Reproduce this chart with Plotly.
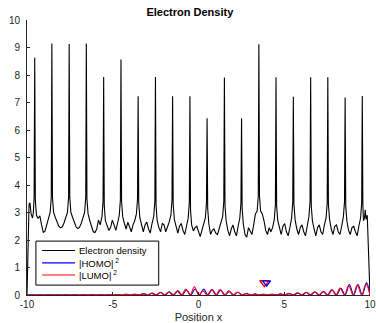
import plotly.graph_objects as go

# ---- data ----
peak_x = [-9.55, -8.55, -7.54, -6.54, -5.53, -4.52, -3.52, -2.51, -1.51, -0.50,
          0.50, 1.51, 2.51, 3.52, 4.52, 5.53, 6.54, 7.54, 8.55, 9.55]
peak_y = [8.63, 9.15, 9.13, 9.15, 7.93, 8.56, 7.23, 7.93, 7.23, 7.23,
          6.43, 7.91, 6.43, 9.12, 7.92, 7.21, 7.92, 7.92, 7.18, 7.24]

# baseline between consecutive peaks, sampled at 10%..90% of each gap
gap_vals = [
    [2.90, 2.78, 2.88, 2.55, 2.28, 2.32, 2.58, 2.82, 3.00],
    [3.00, 2.82, 2.65, 2.50, 2.44, 2.48, 2.62, 2.82, 3.00],
    [3.00, 2.82, 2.62, 2.48, 2.42, 2.46, 2.60, 2.82, 3.00],
    [2.95, 2.70, 2.45, 2.30, 2.27, 2.40, 2.72, 2.55, 2.85],
    [2.70, 2.55, 2.35, 2.45, 2.72, 2.55, 2.35, 2.60, 2.90],
    [2.85, 2.60, 2.40, 2.65, 2.50, 2.30, 2.55, 2.70, 2.95],
    [2.80, 2.50, 2.30, 2.55, 2.65, 2.40, 2.25, 2.60, 2.85],
    [2.70, 2.45, 2.30, 2.60, 2.55, 2.30, 2.45, 2.65, 2.90],
    [2.75, 2.45, 2.25, 2.50, 2.60, 2.35, 2.20, 2.50, 2.80],
    [2.55, 2.33, 2.45, 2.50, 2.30, 2.12, 2.35, 2.55, 2.80],
    [2.60, 2.20, 2.35, 2.40, 2.25, 2.20, 2.45, 2.65, 2.85],
    [2.70, 2.35, 2.15, 2.40, 2.55, 2.30, 2.15, 2.50, 2.80],
    [2.60, 2.20, 2.10, 2.45, 2.30, 2.20, 2.55, 2.95, 3.05],
    [3.05, 2.95, 2.70, 2.35, 2.20, 2.45, 2.30, 2.45, 2.75],
    [2.70, 2.45, 2.20, 2.50, 2.60, 2.30, 2.15, 2.45, 2.80],
    [2.75, 2.40, 2.20, 2.45, 2.55, 2.30, 2.15, 2.50, 2.85],
    [2.70, 2.40, 2.15, 2.45, 2.55, 2.30, 2.20, 2.55, 2.80],
    [2.75, 2.40, 2.20, 2.50, 2.55, 2.30, 2.20, 2.50, 2.85],
    [2.70, 2.35, 2.20, 2.45, 2.50, 2.30, 2.15, 2.50, 2.80],
]
left_x = [-10.0, -9.88, -9.83, -9.76, -9.68, -9.63]
left_y = [0.0, 3.30, 3.35, 2.95, 2.80, 3.00]
right_x = [9.62, 9.68, 9.72, 9.77, 9.84, 10.0]
right_y = [2.70, 2.80, 3.10, 2.75, 2.90, 0.0]

orb_x = [-9.7 + 0.5 * k for k in range(40)]
homo_h = [0.01, 0.01, 0.01, 0.01, 0.01, 0.015, 0.015, 0.02, 0.02, 0.02,
          0.02, 0.025, 0.03, 0.05, 0.07, 0.10, 0.12, 0.15, 0.18, 0.22,
          0.22, 0.20, 0.18, 0.13, 0.10, 0.06, 0.04, 0.03, 0.03, 0.04,
          0.05, 0.07, 0.09, 0.11, 0.13, 0.18, 0.24, 0.38, 0.38, 0.45]
lumo_h = [0.01, 0.01, 0.01, 0.01, 0.01, 0.015, 0.015, 0.02, 0.02, 0.02,
          0.02, 0.025, 0.03, 0.04, 0.06, 0.09, 0.11, 0.14, 0.22, 0.30,
          0.15, 0.20, 0.20, 0.15, 0.11, 0.05, 0.03, 0.03, 0.03, 0.04,
          0.06, 0.08, 0.10, 0.12, 0.12, 0.20, 0.25, 0.35, 0.36, 0.40]

mark_x = [3.84, 3.97]
mark_y = [0.45, 0.45]

series_names = ["Electron density", "|HOMO|<sup> 2</sup>", "|LUMO|<sup> 2</sup>"]
series_colors = ["black", "blue", "red"]

# ---- build curves ----
dx, dy = list(left_x), list(left_y)
for i, (p, h) in enumerate(zip(peak_x, peak_y)):
    base_l = gap_vals[i - 1][-1] if i > 0 else left_y[-1]
    base_r = gap_vals[i][0] if i < len(gap_vals) else right_y[0]
    dx += [p - 0.035, p, p + 0.035]
    dy += [base_l + 0.55, h, base_r + 0.55]
    if i < len(gap_vals):
        g = peak_x[i + 1] - p
        for j, v in enumerate(gap_vals[i]):
            dx.append(p + g * (j + 1) / 10)
            dy.append(v)
dx += right_x
dy += right_y


def orbital(hs, shift):
    xs, ys = [-10.0], [0.0]
    for c, h in zip(orb_x, hs):
        xs += [c + shift - 0.25, c + shift]
        ys += [0.0, h]
    xs += [10.0]
    ys += [0.0]
    return xs, ys


hx, hy = orbital(homo_h, 0.0)
lx, ly = orbital(lumo_h, -0.04)

fig = go.Figure()
fig.add_trace(go.Scatter(x=dx, y=dy, mode="lines", name=series_names[0],
                         line=dict(color=series_colors[0], width=1.1)))
fig.add_trace(go.Scatter(x=hx, y=hy, mode="lines", name=series_names[1],
                         line=dict(color=series_colors[1], width=1.1, shape="spline")))
fig.add_trace(go.Scatter(x=lx, y=ly, mode="lines", name=series_names[2],
                         line=dict(color=series_colors[2], width=1.1, shape="spline")))
fig.add_trace(go.Scatter(x=[mark_x[0]], y=[mark_y[0]], mode="markers",
                         marker=dict(symbol="triangle-down-open", size=8,
                                     line=dict(color="red", width=1.5), color="red")))
fig.add_trace(go.Scatter(x=[mark_x[1]], y=[mark_y[1]], mode="markers",
                         marker=dict(symbol="triangle-down-open", size=7,
                                     line=dict(color="blue", width=1.3), color="blue")))

# ---- compact MATLAB-style legend drawn in the plot area ----
shapes = [dict(type="rect", xref="paper", yref="paper", x0=0.026, x1=0.384,
               y0=0.036, y1=0.196, line=dict(color="black", width=1),
               fillcolor="white", layer="above")]
annotations = []
row_y = [0.162, 0.117, 0.073]
for name, col, yy in zip(series_names, series_colors, row_y):
    shapes.append(dict(type="line", xref="paper", yref="paper", x0=0.044, x1=0.140,
                       y0=yy, y1=yy, line=dict(color=col, width=1.1), layer="above"))
    annotations.append(dict(xref="paper", yref="paper", x=0.146, y=yy, text=name,
                            showarrow=False, xanchor="left", yanchor="middle",
                            font=dict(size=9.5, color="black")))

axcol = "#262626"
fig.update_layout(
    width=376, height=323,
    margin=dict(l=27, r=6, t=20, b=28),
    paper_bgcolor="white", plot_bgcolor="white",
    font=dict(family="Liberation Sans, Arial, sans-serif", size=10, color=axcol),
    title=dict(text="<b>Electron Density</b>", x=0.505, xanchor="center",
               y=0.961, yanchor="middle", font=dict(size=11, color="black")),
    showlegend=False,
    shapes=shapes, annotations=annotations,
    xaxis=dict(range=[-10, 10], tickvals=[-10, -5, 0, 5, 10],
               ticktext=["-10", "-5", "0", "5", "10"], automargin=False,
               showgrid=False, zeroline=False, showline=True, linecolor=axcol,
               linewidth=1, ticks="inside", ticklen=3, tickcolor=axcol,
               ticklabeloverflow="allow",
               title=dict(text="Position x", font=dict(size=11), standoff=6)),
    yaxis=dict(range=[0, 10], tickvals=list(range(11)), automargin=False,
               showgrid=False, zeroline=False, showline=True, linecolor=axcol,
               linewidth=1, ticks="inside", ticklen=3, tickcolor=axcol,
               ticklabelstandoff=4),
)

fig.write_html("out.html")
